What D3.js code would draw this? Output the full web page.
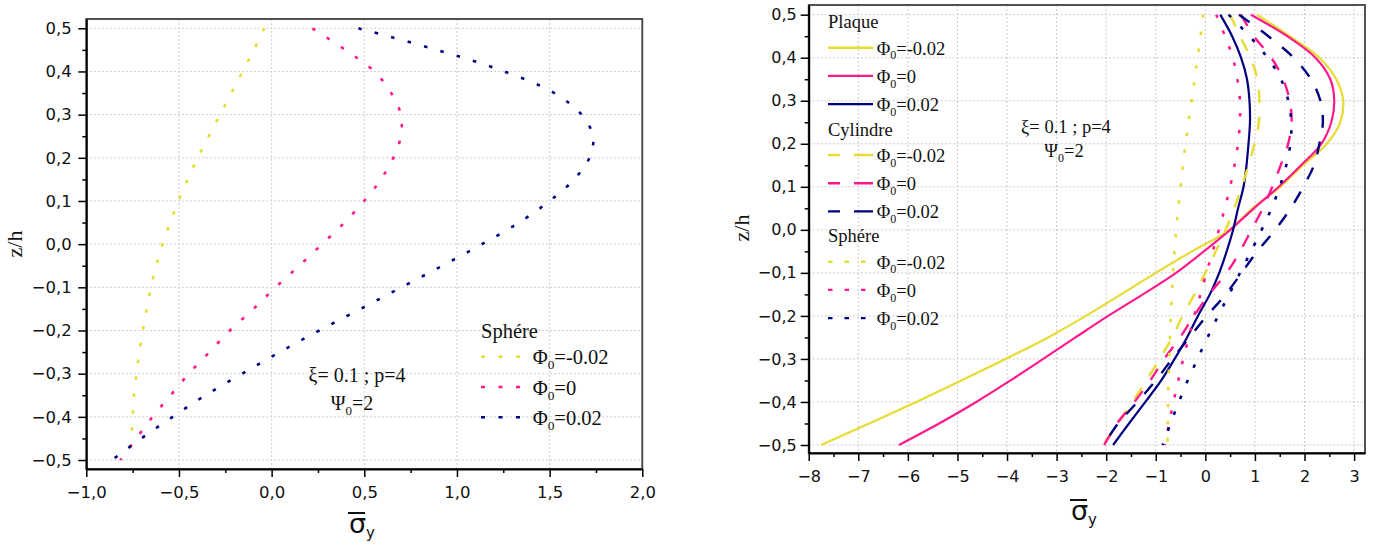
<!DOCTYPE html>
<html><head><meta charset="utf-8">
<script src="https://cdn.jsdelivr.net/npm/d3@7"></script>
<style>
body{margin:0;background:#fff;}
svg{display:block;}
</style></head><body>
<svg id="chart" width="1375" height="547"></svg>
<script>
// ---------- DATA ----------
const zLevels = [0.5,0.45,0.4,0.35,0.3,0.25,0.2,0.15,0.1,0.05,0,-0.05,-0.1,-0.15,-0.2,-0.25,-0.3,-0.35,-0.4,-0.45,-0.5];

// Sphère (both panels)
const sphereNeg  = [-0.04,-0.096,-0.157,-0.217,-0.278,-0.339,-0.399,-0.453,-0.503,-0.547,-0.589,-0.622,-0.652,-0.674,-0.695,-0.714,-0.729,-0.743,-0.750,-0.757,-0.766];
const sphereZero = [0.22,0.397,0.554,0.645,0.697,0.697,0.657,0.589,0.499,0.393,0.272,0.149,0.021,-0.098,-0.225,-0.336,-0.447,-0.545,-0.643,-0.730,-0.816];
const spherePos  = [0.468,0.891,1.255,1.525,1.672,1.734,1.715,1.632,1.500,1.335,1.135,0.921,0.700,0.480,0.257,0.044,-0.158,-0.357,-0.534,-0.703,-0.861];

// Plaque (solid)
const plaqueNeg  = [1.04,1.70,2.30,2.64,2.78,2.72,2.45,1.97,1.51,0.95,0.49,-0.27,-1.00,-1.70,-2.41,-3.17,-4.03,-4.92,-5.83,-6.78,-7.75];
const plaqueZero = [0.92,1.65,2.22,2.52,2.60,2.54,2.34,1.93,1.48,0.98,0.50,-0.03,-0.59,-1.26,-1.96,-2.62,-3.27,-3.93,-4.62,-5.37,-6.18];
const plaquePos  = [0.30,0.54,0.72,0.84,0.89,0.90,0.87,0.83,0.77,0.66,0.56,0.43,0.28,0.09,-0.15,-0.37,-0.62,-0.89,-1.21,-1.54,-1.86];

// Cylindre (dashed)
const cylNeg  = [0.50,0.70,0.91,1.05,1.09,1.08,0.99,0.87,0.735,0.58,0.41,0.21,0.0,-0.22,-0.46,-0.67,-0.92,-1.19,-1.47,-1.76,-2.06];
const cylZero = [0.72,0.98,1.33,1.57,1.70,1.74,1.67,1.52,1.35,1.16,0.93,0.70,0.43,0.075,-0.23,-0.51,-0.83,-1.11,-1.43,-1.78,-2.04];
const cylPos  = [0.68,1.27,1.78,2.13,2.32,2.37,2.30,2.19,1.975,1.72,1.41,1.05,0.73,0.41,0.03,-0.32,-0.67,-1.00,-1.37,-1.76,-2.05];

// Ticks
const yTicks = [-0.5,-0.4,-0.3,-0.2,-0.1,0,0.1,0.2,0.3,0.4,0.5];
const yTickLabels = ["−0,5","−0,4","−0,3","−0,2","−0,1","0,0","0,1","0,2","0,3","0,4","0,5"];
const yMinor = [-0.45,-0.35,-0.25,-0.15,-0.05,0.05,0.15,0.25,0.35,0.45];
const leftXTicks = [-1,-0.5,0,0.5,1,1.5,2];
const leftXTickLabels = ["−1,0","−0,5","0,0","0,5","1,0","1,5","2,0"];
const leftXMinor = [-0.75,-0.25,0.25,0.75,1.25,1.75];
const rightXTicks = [-8,-7,-6,-5,-4,-3,-2,-1,0,1,2,3];
const rightXTickLabels = ["−8","−7","−6","−5","−4","−3","−2","−1","0","1","2","3"];
const rightXMinor = [-7.5,-6.5,-5.5,-4.5,-3.5,-2.5,-1.5,-0.5,0.5,1.5,2.5];

// Legend labels
const phiLabels = ["=-0.02","=0","=0.02"];
const groupNames = ["Plaque","Cylindre","Sphére"];

// ---------- STYLE ----------
const COL = ["#e6dc32","#ff1a8c","#000080"];
const DOT = "3.5,13.5", DASH = "13,14";
const svg = d3.select("#chart");
const SERIF = "'Liberation Serif','Times New Roman',serif";
const SANS = "'DejaVu Sans',sans-serif";

function panel(o){
  const x = d3.scaleLinear().domain(o.xDomain).range([o.x0,o.x1]);
  const y = d3.scaleLinear().domain(o.yDomain).range([o.y1,o.y0]);
  const g = svg.append("g");
  const grid = g.append("g").attr("stroke","#cccccc").attr("stroke-width",1).attr("stroke-dasharray","2,2");
  grid.selectAll("line.gx").data(o.xTicks).join("line").attr("class","gx")
    .attr("x1",d=>x(d)).attr("x2",d=>x(d)).attr("y1",o.y0).attr("y2",o.y1);
  grid.selectAll("line.gy").data(yTicks).join("line").attr("class","gy")
    .attr("x1",o.x0).attr("x2",o.x1).attr("y1",d=>y(d)).attr("y2",d=>y(d));
  // frame
  g.append("rect").attr("x",o.x0).attr("y",o.y0).attr("width",o.x1-o.x0).attr("height",o.y1-o.y0)
    .attr("fill","none").attr("stroke","#404040").attr("stroke-width",1.8);
  // axes
  const xa = g.append("g").attr("transform",`translate(0,${o.y1})`)
    .call(d3.axisBottom(x).tickValues(o.xTicks).tickSize(8).tickSizeOuter(0).tickFormat((d,i)=>o.xLabels[i]));
  xa.select(".domain").attr("stroke","#000").attr("stroke-width",2);
  xa.selectAll(".tick line").attr("stroke","#000").attr("stroke-width",1.5);
  xa.selectAll(".tick text").attr("y",o.xLabelDy).attr("dy",null)
    .attr("font-family",SANS).attr("font-size",o.tickFs).attr("fill","#111");
  const xm = g.append("g").attr("transform",`translate(0,${o.y1})`)
    .call(d3.axisBottom(x).tickValues(o.xMinor).tickSize(4).tickSizeOuter(0).tickFormat(""));
  xm.select(".domain").remove();
  xm.selectAll(".tick line").attr("stroke","#000").attr("stroke-width",1.5);

  const ya = g.append("g").attr("transform",`translate(${o.x0},0)`)
    .call(d3.axisLeft(y).tickValues(yTicks).tickSize(8).tickSizeOuter(0).tickPadding(o.yPad).tickFormat((d,i)=>yTickLabels[i]));
  ya.select(".domain").attr("stroke","#000").attr("stroke-width",2);
  ya.selectAll(".tick line").attr("stroke","#000").attr("stroke-width",1.5);
  ya.selectAll(".tick text").attr("font-family",SANS).attr("font-size",o.tickFs).attr("fill","#111");
  const ym = g.append("g").attr("transform",`translate(${o.x0},0)`)
    .call(d3.axisLeft(y).tickValues(yMinor).tickSize(4).tickSizeOuter(0).tickFormat(""));
  ym.select(".domain").remove();
  ym.selectAll(".tick line").attr("stroke","#000").attr("stroke-width",1.5);

  // axis titles
  g.append("text").attr("transform",`translate(${o.zx},${o.zy}) rotate(-90)`)
    .attr("text-anchor","middle").attr("font-family",SERIF).attr("font-size",22).attr("fill","#111").text("z/h");
  const sl = g.append("text").attr("x",o.sx).attr("y",o.sy).attr("text-anchor","middle")
    .attr("font-family",SANS).attr("font-size",27).attr("fill","#111");
  sl.append("tspan").text("σ");
  sl.append("tspan").attr("font-size",15).attr("dy",5).text("y");
  g.append("line").attr("x1",o.sx-14).attr("x2",o.sx+3).attr("y1",o.sy-20).attr("y2",o.sy-20)
    .attr("stroke","#111").attr("stroke-width",2);
  return {x,y,g};
}

function curve(p, vals, color, dash, w){
  const line = d3.line().x(d=>p.x(d[0])).y(d=>p.y(d[1])).curve(d3.curveCatmullRom.alpha(0.5));
  p.g.append("path").datum(vals.map((v,i)=>[v,zLevels[i]])).attr("d",line)
    .attr("fill","none").attr("stroke",color).attr("stroke-width",w||2.2)
    .attr("stroke-dasharray",dash||null);
}

function phiText(g, x, y, label, fs){
  const t = g.append("text").attr("x",x).attr("y",y).attr("font-family",SERIF).attr("font-size",fs).attr("fill","#111");
  t.append("tspan").text("Φ");
  t.append("tspan").attr("font-size",fs*0.65).attr("dy",fs*0.25).text("0");
  t.append("tspan").attr("dy",-fs*0.25).text(label);
}

function annot(g, cx1, cx2, y1, y2, fs){
  g.append("text").attr("x",cx1).attr("y",y1).attr("text-anchor","middle").attr("font-family",SERIF)
    .attr("font-size",fs).attr("fill","#111").text("ξ= 0.1 ; p=4");
  const t = g.append("text").attr("x",cx2).attr("y",y2).attr("text-anchor","middle").attr("font-family",SERIF)
    .attr("font-size",fs).attr("fill","#111");
  t.append("tspan").text("Ψ");
  t.append("tspan").attr("font-size",fs*0.65).attr("dy",fs*0.25).text("0");
  t.append("tspan").attr("dy",-fs*0.25).text("=2");
}

// ---------- LEFT PANEL ----------
const L = panel({xDomain:[-1,2], yDomain:[-0.5208,0.5215], x0:86.3, x1:642.3, y0:19, y1:469,
  xTicks:leftXTicks, xLabels:leftXTickLabels, xMinor:leftXMinor, tickFs:16.5, xLabelDy:29, yPad:6.6,
  zx:22, zy:244, sx:362, sy:533});
[sphereNeg, sphereZero, spherePos].forEach((s,i)=>curve(L, s, COL[i], DOT, 2.6));
annot(L.g, 357, 352, 382, 410, 20);
L.g.append("text").attr("x",481).attr("y",338).attr("font-family",SERIF).attr("font-size",20.5).attr("fill","#111").text(groupNames[2]);
phiLabels.forEach((lab,i)=>{
  const yy = 356.7 + i*30.3;
  L.g.append("line").attr("x1",481).attr("x2",520).attr("y1",yy).attr("y2",yy)
    .attr("stroke",COL[i]).attr("stroke-width",2.6).attr("stroke-dasharray","4,13.5");
  phiText(L.g, 532.7, yy+7.5, lab, 20.5);
});

// ---------- RIGHT PANEL ----------
const R = panel({xDomain:[-8,3.22], yDomain:[-0.5186,0.5225], x0:808.7, x1:1365, y0:5, y1:453,
  xTicks:rightXTicks, xLabels:rightXTickLabels, xMinor:rightXMinor, tickFs:16, xLabelDy:29, yPad:4,
  zx:749, zy:228, sx:1084, sy:520});
[plaqueNeg, plaqueZero, plaquePos].forEach((s,i)=>curve(R, s, COL[i], null, 2.2));
[cylNeg, cylZero, cylPos].forEach((s,i)=>curve(R, s, COL[i], DASH, 2.4));
[sphereNeg, sphereZero, spherePos].forEach((s,i)=>curve(R, s, COL[i], DOT, 2.6));
annot(R.g, 1066, 1064, 133, 157, 18.5);
const groupStart = [47.7, 155, 261.7];
const groupDash = [null, "12,14,19", "4.5,12"];
groupNames.forEach((name,gi)=>{
  R.g.append("text").attr("x",828).attr("y",groupStart[gi]-19.5).attr("font-family",SERIF)
    .attr("font-size",18.5).attr("fill","#111").text(name);
  phiLabels.forEach((lab,i)=>{
    const yy = groupStart[gi] + i*28.2;
    R.g.append("line").attr("x1",828).attr("x2",873).attr("y1",yy).attr("y2",yy)
      .attr("stroke",COL[i]).attr("stroke-width",2.4).attr("stroke-dasharray",groupDash[gi]);
    phiText(R.g, 876.7, yy+7, lab, 18.5);
  });
});
</script>
</body></html>
